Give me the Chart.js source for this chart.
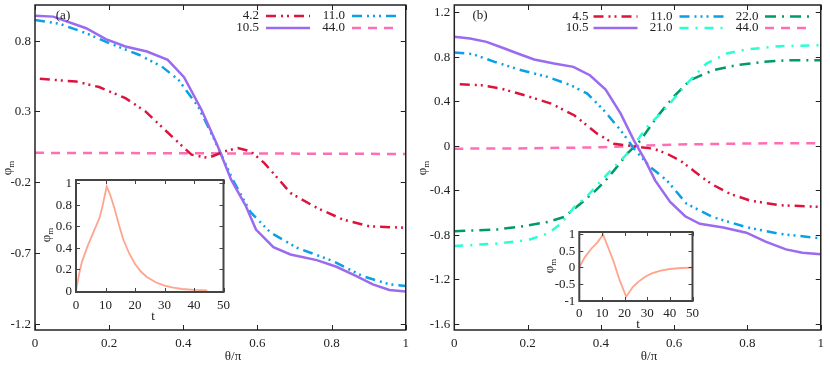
<!DOCTYPE html>
<html>
<head>
<meta charset="utf-8">
<script src="https://cdn.jsdelivr.net/npm/chart.js@4.4.1/dist/chart.umd.min.js"></script>
<style>
  body { margin: 0; background: #fff; width: 830px; height: 365px; position: relative; overflow: hidden; }
  canvas { position: absolute; }
</style>
</head>
<body>
<canvas id="mainA" style="left:0;top:0" width="415" height="365"></canvas>
<canvas id="mainB" style="left:415px;top:0" width="415" height="365"></canvas>
<canvas id="insetA" style="left:36px;top:175px" width="200" height="150"></canvas>
<canvas id="insetB" style="left:539px;top:227px" width="165" height="110"></canvas>
<script>
// ---- data, panel (a) ----
var thetaTicks = [0, 0.2, 0.4, 0.6, 0.8, 1];
var yTicksA = [-1.2, -0.7, -0.2, 0.3, 0.8];

var xA42 = [0.013, 0.111, 0.173, 0.244, 0.298, 0.369, 0.422, 0.467, 0.511, 0.547, 0.582, 0.618, 0.658, 0.689, 0.76, 0.831, 0.902, 1];
var yA42 = [0.53, 0.511, 0.472, 0.394, 0.30, 0.124, -0.005, -0.028, 0.018, 0.042, 0.018, -0.063, -0.181, -0.275, -0.38, -0.463, -0.51, -0.521];

var xA105 = [0, 0.049, 0.138, 0.191, 0.244, 0.302, 0.358, 0.402, 0.449, 0.493, 0.529, 0.569, 0.596, 0.643, 0.689, 0.76, 0.813, 0.867, 0.911, 0.956, 1];
var yA105 = [0.976, 0.969, 0.887, 0.81, 0.758, 0.723, 0.664, 0.542, 0.312, 0.054, -0.181, -0.369, -0.533, -0.658, -0.709, -0.749, -0.796, -0.862, -0.92, -0.96, -0.97];

var xA110 = [0, 0.067, 0.138, 0.2, 0.28, 0.342, 0.387, 0.44, 0.484, 0.533, 0.582, 0.636, 0.707, 0.804, 0.884, 0.956, 1];
var yA110 = [0.946, 0.918, 0.852, 0.782, 0.70, 0.617, 0.523, 0.335, 0.10, -0.18, -0.413, -0.556, -0.662, -0.756, -0.862, -0.92, -0.932];

var xA440 = [0, 0.25, 0.5, 0.75, 1];
var yA440 = [0.008, 0.006, 0.004, 0.002, 0.0];

// ---- data, panel (b) ----
var yTicksB = [-1.6, -1.2, -0.8, -0.4, 0, 0.4, 0.8, 1.2];

var xB45 = [0.015, 0.074, 0.128, 0.192, 0.264, 0.327, 0.39, 0.436, 0.481, 0.544, 0.58, 0.616, 0.652, 0.688, 0.706, 0.752, 0.806, 0.887, 1];
var yB45 = [0.554, 0.545, 0.515, 0.455, 0.38, 0.276, 0.11, 0.02, 0.0, -0.025, -0.07, -0.13, -0.22, -0.31, -0.35, -0.43, -0.49, -0.533, -0.548];

var xB105 = [0, 0.043, 0.088, 0.137, 0.173, 0.218, 0.272, 0.325, 0.37, 0.413, 0.454, 0.49, 0.521, 0.548, 0.589, 0.63, 0.67, 0.734, 0.797, 0.851, 0.905, 0.95, 1];
var yB105 = [0.98, 0.965, 0.935, 0.875, 0.83, 0.776, 0.74, 0.71, 0.635, 0.507, 0.29, 0.05, -0.13, -0.31, -0.503, -0.632, -0.70, -0.733, -0.78, -0.862, -0.93, -0.96, -0.973];

var xB110 = [0, 0.051, 0.11, 0.183, 0.255, 0.318, 0.363, 0.408, 0.454, 0.494, 0.535, 0.58, 0.634, 0.706, 0.797, 0.887, 1];
var yB110 = [0.84, 0.824, 0.755, 0.68, 0.62, 0.545, 0.47, 0.32, 0.14, -0.04, -0.19, -0.31, -0.52, -0.64, -0.73, -0.79, -0.83];

var xB210 = [0, 0.119, 0.2, 0.255, 0.291, 0.327, 0.363, 0.399, 0.427, 0.472, 0.526, 0.58, 0.635, 0.688, 0.743, 0.797, 0.887, 1];
var yB210 = [-0.9, -0.877, -0.847, -0.787, -0.70, -0.55, -0.45, -0.32, -0.22, -0.07, 0.17, 0.35, 0.56, 0.74, 0.83, 0.866, 0.896, 0.905];

var xB220 = [0, 0.119, 0.192, 0.255, 0.3, 0.345, 0.386, 0.413, 0.436, 0.472, 0.508, 0.553, 0.598, 0.643, 0.706, 0.77, 0.842, 0.914, 1];
var yB220 = [-0.767, -0.75, -0.72, -0.683, -0.638, -0.518, -0.40, -0.31, -0.22, -0.07, 0.05, 0.26, 0.44, 0.59, 0.68, 0.725, 0.755, 0.77, 0.77];

var xB440 = [0, 0.2, 0.4, 0.5, 0.6, 0.8, 1];
var yB440 = [-0.025, -0.022, -0.012, 0, 0.012, 0.022, 0.025];

// ---- insets ----
var tTicks = [0, 10, 20, 30, 40, 50];
var yTicksInA = [0, 0.2, 0.4, 0.6, 0.8, 1];
var yTicksInB = [-1, -0.5, 0, 0.5, 1];

var tInA = [0, 1, 2, 4, 6, 8, 9, 10.4, 11.5, 13, 14.5, 16, 18, 20, 22, 24, 27, 30, 33, 36, 40, 44.5];
var vInA = [0, 0.15, 0.27, 0.42, 0.55, 0.68, 0.79, 0.97, 0.9, 0.77, 0.62, 0.48, 0.35, 0.25, 0.18, 0.13, 0.08, 0.05, 0.03, 0.018, 0.01, 0.006];

var tInB = [0, 2.4, 5.2, 8, 10.5, 13, 15, 17.9, 20.7, 23.5, 26.3, 29.1, 32, 36, 40, 45, 50];
var vInB = [0, 0.3, 0.55, 0.75, 0.98, 0.55, 0.2, -0.4, -0.88, -0.6, -0.42, -0.28, -0.18, -0.1, -0.05, -0.02, -0.01];

var FONT = "'Liberation Serif', 'DejaVu Serif', serif";

function pts(xs, ys) {
  return xs.map(function (x, i) { return { x: x, y: ys[i] }; });
}

function line(label, xs, ys, color, dash, width) {
  return {
    label: label,
    data: pts(xs, ys),
    borderColor: color,
    backgroundColor: color,
    borderDash: dash,
    borderWidth: width || 2.5,
    pointRadius: 0,
    tension: 0,
    fill: false
  };
}

function fmt(v) {
  return String(Math.round(v * 10) / 10);
}

// frame with inward ticks on all sides, y tick labels, axis titles, panel label
const framePlugin = {
  id: 'frame',
  beforeDatasetsDraw(chart, args, o) {
    if (!o.fill) return;
    const a = chart.chartArea, ctx = chart.ctx;
    ctx.save();
    ctx.fillStyle = '#fff';
    ctx.fillRect(a.left, a.top, a.width, a.height);
    ctx.restore();
  },
  afterDatasetsDraw(chart, args, o) {
    const ctx = chart.ctx, a = chart.chartArea;
    const xs = chart.scales.x, ys = chart.scales.y;
    ctx.save();
    ctx.strokeStyle = o.color;
    ctx.lineWidth = 1;
    o.xTicks.forEach(function (v) {
      const px = Math.round(xs.getPixelForValue(v)) + 0.5;
      ctx.beginPath();
      ctx.moveTo(px, a.bottom); ctx.lineTo(px, a.bottom - o.tick);
      ctx.moveTo(px, a.top); ctx.lineTo(px, a.top + o.tick);
      ctx.stroke();
    });
    ctx.fillStyle = '#222';
    ctx.font = '13px ' + FONT;
    ctx.textAlign = 'right';
    ctx.textBaseline = 'middle';
    o.yTicks.forEach(function (v) {
      const py = Math.round(ys.getPixelForValue(v)) + 0.5;
      ctx.beginPath();
      ctx.moveTo(a.left, py); ctx.lineTo(a.left + o.tick, py);
      ctx.moveTo(a.right, py); ctx.lineTo(a.right - o.tick, py);
      ctx.stroke();
      ctx.fillText(fmt(v), a.left - 4, py);
    });
    ctx.lineWidth = o.width;
    ctx.strokeRect(a.left, a.top, a.width, a.height);

    ctx.textAlign = 'center';
    ctx.fillText(o.xTitle, o.xTitleX, o.xTitleY);
    if (o.label) ctx.fillText(o.label, o.labelX, o.labelY);

    // rotated phi_m
    ctx.translate(o.yTitleX, o.yTitleY);
    ctx.rotate(-Math.PI / 2);
    ctx.textAlign = 'left';
    ctx.font = '13px ' + FONT;
    const w1 = ctx.measureText('\u03c6').width;
    ctx.font = '9px ' + FONT;
    const w2 = ctx.measureText('m').width;
    const x0 = -(w1 + w2) / 2;
    ctx.font = '13px ' + FONT;
    ctx.fillText('\u03c6', x0, 0);
    ctx.font = '9px ' + FONT;
    ctx.fillText('m', x0 + w1, 4);
    ctx.restore();
  }
};

// key drawn as in the original: text right aligned, sample line after it
const keyPlugin = {
  id: 'key',
  afterDraw(chart, args, o) {
    if (!o.items) return;
    const ctx = chart.ctx;
    ctx.save();
    ctx.font = '13px ' + FONT;
    ctx.textAlign = 'right';
    ctx.textBaseline = 'middle';
    o.items.forEach(function (it) {
      const ds = chart.data.datasets[it.i];
      ctx.fillStyle = '#222';
      ctx.fillText(ds.label, it.tx, it.y);
      ctx.strokeStyle = ds.borderColor;
      ctx.lineWidth = ds.borderWidth;
      ctx.setLineDash(ds.borderDash || []);
      ctx.beginPath();
      ctx.moveTo(it.s0, it.y);
      ctx.lineTo(it.s1, it.y);
      ctx.stroke();
    });
    ctx.restore();
  }
};

function makeOptions(c) {
  c.frame.xTicks = c.xTicks;
  c.frame.yTicks = c.yTicks;
  return {
    responsive: false,
    animation: false,
    events: [],
    layout: { padding: c.padding },
    plugins: {
      legend: { display: false },
      tooltip: { enabled: false },
      frame: c.frame,
      key: { items: c.key }
    },
    scales: {
      x: {
        type: 'linear',
        min: c.xMin, max: c.xMax,
        afterBuildTicks: function (s) { s.ticks = c.xTicks.map(function (v) { return { value: v }; }); },
        afterFit: function (s) { s.height = c.xHeight; },
        grid: { display: false, drawTicks: false },
        border: { display: false },
        ticks: { font: { family: FONT, size: 13 }, color: '#222', padding: c.xPad, maxRotation: 0, autoSkip: false, callback: fmt }
      },
      y: {
        type: 'linear',
        min: c.yMin, max: c.yMax,
        afterFit: function (s) { s.width = c.yWidth; },
        grid: { display: false, drawTicks: false },
        border: { display: false },
        ticks: { display: false }
      }
    }
  };
}

Chart.register(framePlugin, keyPlugin);

var red = '#dc143c', purple = '#9a6af0', blue = '#0aa0e6', cyan = '#2affd2', green = '#009a68', pink = '#ff6eb4', salmon = '#ffa48e';
var dRed = [10, 5, 2, 4, 2, 5], dBlue = [10, 5, 2, 4, 2, 4, 2, 5], dPink = [9, 7], dCyan = [9, 7, 2, 7], dGreen = [11, 6, 2, 6];

new Chart(document.getElementById('mainA'), {
  type: 'line',
  data: {
    datasets: [
      line('4.2', xA42, yA42, red, dRed),
      line('10.5', xA105, yA105, purple, []),
      line('11.0', xA110, yA110, blue, dBlue),
      line('44.0', xA440, yA440, pink, dPink)
    ]
  },
  options: makeOptions({
    padding: { top: 5, right: 5, left: 0, bottom: 0 },
    xMin: 0, xMax: 1, xTicks: thetaTicks, xHeight: 35, xPad: 6,
    yMin: -1.242, yMax: 1.051, yTicks: yTicksA, yWidth: 35,
    frame: { color: '#222', width: 1.5, tick: 5, xTitle: '\u03b8/\u03c0', xTitleX: 233, xTitleY: 357, yTitleX: 8, yTitleY: 168, label: '(a)', labelX: 63, labelY: 16 },
    key: [
      { i: 0, tx: 259, s0: 266, s1: 310, y: 16 },
      { i: 1, tx: 259, s0: 266, s1: 310, y: 28 },
      { i: 2, tx: 345, s0: 352, s1: 396, y: 16 },
      { i: 3, tx: 345, s0: 352, s1: 396, y: 28 }
    ]
  })
});

new Chart(document.getElementById('mainB'), {
  type: 'line',
  data: {
    datasets: [
      line('4.5', xB45, yB45, red, dRed),
      line('10.5', xB105, yB105, purple, []),
      line('11.0', xB110, yB110, blue, dBlue),
      line('21.0', xB210, yB210, cyan, dCyan),
      line('22.0', xB220, yB220, green, dGreen),
      line('44.0', xB440, yB440, pink, dPink)
    ]
  },
  options: makeOptions({
    padding: { top: 5, right: 6.7, left: 0, bottom: 0 },
    xMin: 0, xMax: 1, xTicks: thetaTicks, xHeight: 35, xPad: 6,
    yMin: -1.654, yMax: 1.266, yTicks: yTicksB, yWidth: 39.3,
    frame: { color: '#222', width: 1.5, tick: 5, xTitle: '\u03b8/\u03c0', xTitleX: 234, xTitleY: 357, yTitleX: 8, yTitleY: 168, label: '(b)', labelX: 65, labelY: 16 },
    key: [
      { i: 0, tx: 173.5, s0: 178.5, s1: 222.5, y: 16.5 },
      { i: 1, tx: 173.5, s0: 178.5, s1: 222.5, y: 28 },
      { i: 2, tx: 257.5, s0: 264.5, s1: 308.5, y: 16.5 },
      { i: 3, tx: 257.5, s0: 264.5, s1: 308.5, y: 28 },
      { i: 4, tx: 343.5, s0: 350, s1: 394, y: 16.5 },
      { i: 5, tx: 343.5, s0: 350, s1: 394, y: 28 }
    ]
  })
});

new Chart(document.getElementById('insetA'), {
  type: 'line',
  data: { datasets: [line('inset', tInA, vInA, salmon, [], 1.8)] },
  options: makeOptions({
    padding: { top: 5, right: 5, left: 0, bottom: 0 },
    xMin: 0, xMax: 50, xTicks: tTicks, xHeight: 33, xPad: 6,
    yMin: -0.01, yMax: 1.03, yTicks: yTicksInA, yWidth: 40,
    frame: { fill: true, color: '#444', width: 2, tick: 4, xTitle: 't', xTitleX: 117, xTitleY: 142, yTitleX: 11, yTitleY: 60 }
  })
});

new Chart(document.getElementById('insetB'), {
  type: 'line',
  data: { datasets: [line('inset', tInB, vInB, salmon, [], 1.8)] },
  options: makeOptions({
    padding: { top: 5, right: 6.3, left: 0, bottom: 0 },
    xMin: 0, xMax: 50, xTicks: tTicks, xHeight: 36, xPad: 5,
    yMin: -1.01, yMax: 1.06, yTicks: yTicksInB, yWidth: 40.3,
    frame: { fill: true, color: '#444', width: 2, tick: 4, xTitle: 't', xTitleX: 99, xTitleY: 98, yTitleX: 11, yTitleY: 39 }
  })
});
</script>
</body>
</html>
